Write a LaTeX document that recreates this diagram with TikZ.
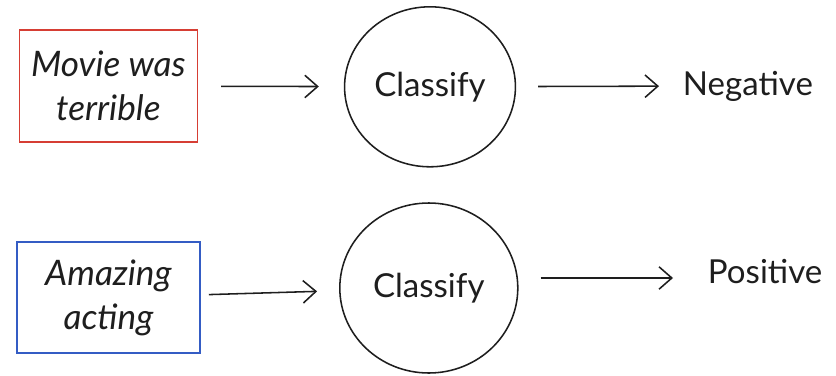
\documentclass[tikz,border=0pt]{standalone}
\usepackage{fontspec}
\setmainfont{Lato}
\usetikzlibrary{shapes.geometric,arrows.meta}

\definecolor{boxred}{RGB}{214,62,52}
\definecolor{boxblue}{RGB}{52,92,196}
\definecolor{ink}{RGB}{30,30,30}

\tikzset{
    inbox/.style={draw=#1,line width=1.1pt,minimum width=4.45cm,minimum height=2.8cm,
        align=center,font=\fontsize{25}{31}\selectfont\itshape,text=ink},
    clfnode/.style={draw=ink,ellipse,line width=1.1pt,font=\fontsize{23.5}{28}\selectfont,text=ink},
    outlabel/.style={anchor=base west,font=\fontsize{23.5}{28}\selectfont,text=ink},
    flow/.style={-{Straight Barb[length=3.2mm,width=5.6mm]},line width=1.1pt,ink}
}

\begin{document}
\begin{tikzpicture}

\useasboundingbox (0,0) rectangle (20.9,-9.375);

\node[inbox=boxred] (movie) at (2.71,-2.15) {Movie was\\terrible};
\node[inbox=boxblue,minimum width=4.58cm,minimum height=2.78cm] (amazing) at (2.71,-7.44) {Amazing\\acting};

\node[clfnode,minimum width=4.25cm,minimum height=4cm] (clf1) at (10.75,-2.17) {Classify};
\node[clfnode,minimum width=4.45cm,minimum height=4.25cm] (clf2) at (10.72,-7.2) {Classify};

\node[outlabel] (neg) at (16.95,-2.375) {Negative};
\node[outlabel] (pos) at (17.575,-7.075) {Positive};

%\draw[help lines] (0,0) grid (20,-9);
\draw[flow,shorten <=0.575cm,shorten >=0.625cm] (movie) -- (clf1);
\draw[flow,shorten <=0.2cm,shorten >=0.55cm] (amazing) -- (clf2);
\draw[flow,shorten <=0.55cm,shorten >=0.475cm] (clf1) -- (neg);
\draw[flow,shorten <=0.55cm,shorten >=0.75cm] ([yshift=.25cm]clf2.east) -- ([yshift=.25cm]clf2.east -| pos.west);

\end{tikzpicture}
\end{document}
